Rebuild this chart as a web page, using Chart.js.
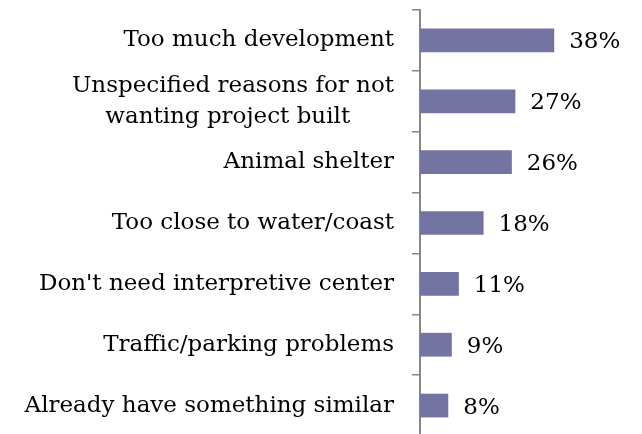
<!DOCTYPE html>
<html>
<head>
<meta charset="utf-8">
<script src="https://cdn.jsdelivr.net/npm/chart.js@4/dist/chart.umd.min.js"></script>
<style>
  html, body { margin: 0; padding: 0; background: #fff; overflow: hidden; }
  #wrap { width: 642px; height: 434px; overflow: hidden; }
</style>
</head>
<body>
<div id="wrap"><canvas id="chart" width="642" height="436"></canvas></div>
<script>
var categories = [
    'Too much development',
    ['Unspecified reasons for not', 'wanting project built      '],
    'Animal shelter',
    'Too close to water/coast',
    "Don't need interpretive center",
    'Traffic/parking problems',
    'Already have something similar'
];
var percentValues = [38, 27, 26, 18, 11, 9, 8];

var labelFont = '"DejaVu Serif", serif';

// draws the "38%" style labels just past the end of each bar
var valueLabels = {
    id: 'valueLabels',
    afterDatasetsDraw: function (chart) {
        var ctx = chart.ctx;
        var meta = chart.getDatasetMeta(0);
        ctx.save();
        ctx.font = '23px ' + labelFont;
        ctx.fillStyle = '#000';
        ctx.textAlign = 'left';
        ctx.textBaseline = 'middle';
        for (var i = 0; i < meta.data.length; i++) {
            var bar = meta.data[i];
            ctx.fillText(percentValues[i] + '%', bar.x + 15, bar.y + 2);
        }
        ctx.restore();
    }
};

var chart = new Chart(document.getElementById('chart').getContext('2d'), {
    type: 'bar',
    data: {
        labels: categories,
        datasets: [{
            data: percentValues,
            backgroundColor: '#7474a3',
            borderWidth: 0,
            categoryPercentage: 1,
            barPercentage: 0.39
        }]
    },
    options: {
        indexAxis: 'y',
        responsive: false,
        animation: false,
        layout: { padding: { top: 10, right: 3, bottom: 0, left: 0 } },
        plugins: {
            legend: { display: false },
            tooltip: { enabled: false }
        },
        scales: {
            x: {
                display: false,
                min: 0,
                max: 62
            },
            y: {
                afterFit: function (scale) {
                    scale.width = 420;
                    scale.paddingTop = 0;
                    scale.paddingBottom = 0;
                },
                border: { display: true, color: '#878787', width: 2 },
                grid: {
                    offset: true,
                    drawOnChartArea: false,
                    drawTicks: true,
                    tickLength: 8,
                    color: '#878787',
                    lineWidth: 1.5
                },
                ticks: {
                    autoSkip: false,
                    color: '#000',
                    padding: 18,
                    font: { family: labelFont, size: 23, lineHeight: 1.35 }
                }
            }
        }
    },
    plugins: [valueLabels]
});
</script>
</body>
</html>
